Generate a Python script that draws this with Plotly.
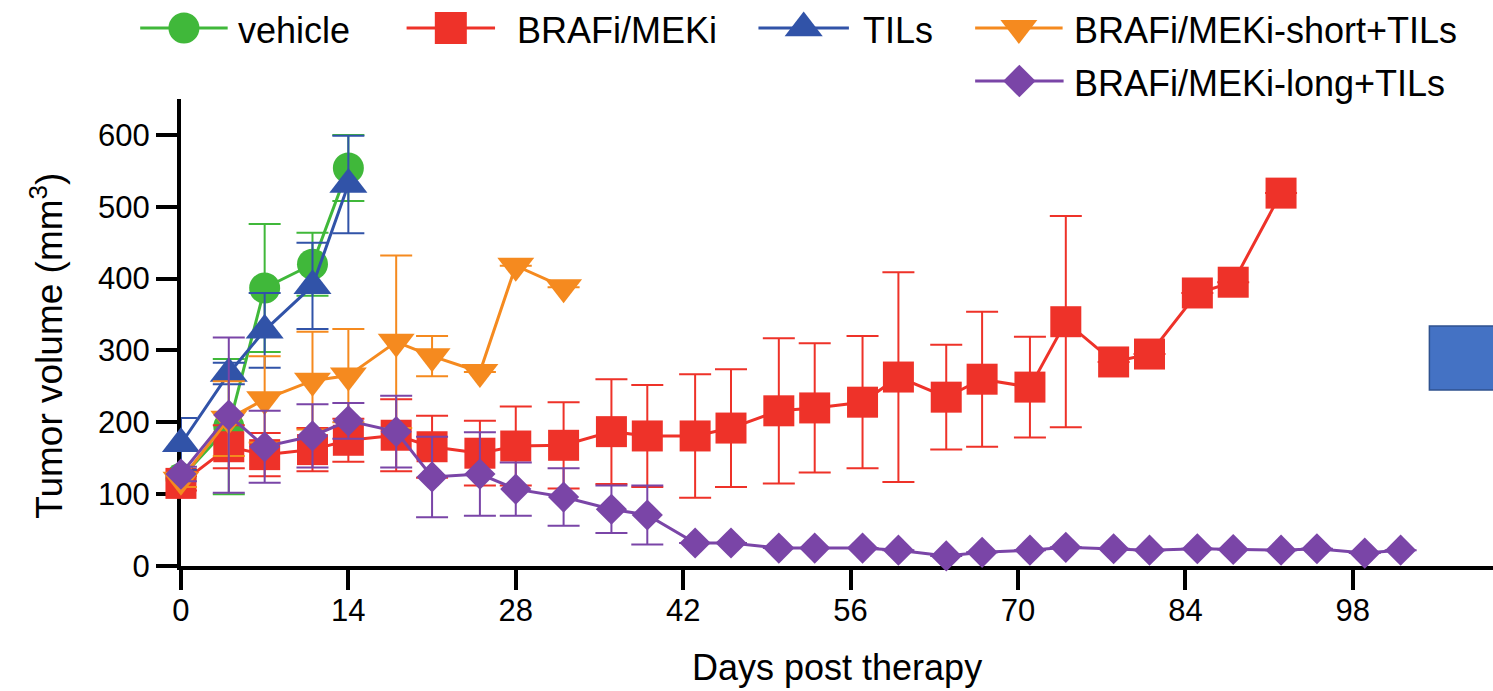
import plotly.graph_objects as go

# ---------------- data ----------------
vehicle_days = [0, 4, 7, 11, 14]
vehicle_vals = [122, 194, 387, 420, 554]
vehicle_err = [12, 94, 89, 44, 46]

braf_days = [0, 4, 7, 11, 14, 18, 21, 25, 28, 32, 36, 39, 43, 46, 50, 53, 57, 60, 64, 67, 71, 74, 78, 81, 85, 88, 92]
braf_vals = [115, 166, 155, 162, 175, 182, 166, 157, 167, 168, 187, 181, 181, 192, 216, 220, 228, 263, 235, 260, 249, 340, 284, 295, 380, 395, 519]
braf_err = [10, 30, 30, 30, 30, 50, 43, 45, 55, 60, 73, 71, 86, 82, 101, 90, 92, 146, 73, 94, 70, 147, 0, 0, 0, 0, 0]

til_days = [0, 4, 7, 11, 14]
til_vals = [170, 268, 328, 390, 531]
til_err = [36, 15, 52, 60, 68]

short_days = [0, 4, 7, 11, 14, 18, 21, 25, 28, 32]
short_vals = [120, 205, 232, 258, 265, 312, 292, 270, 418, 388]
short_err = [10, 52, 60, 68, 65, 120, 28, 0, 0, 0]

long_days = [0, 4, 7, 11, 14, 18, 21, 25, 28, 32, 36, 39, 43, 46, 50, 53, 57, 60, 64, 67, 71, 74, 78, 81, 85, 88, 92, 95, 99, 102]
long_vals = [128, 210, 166, 181, 202, 187, 124, 128, 107, 96, 79, 71, 32, 32, 25, 25, 25, 22, 14, 19, 22, 26, 24, 22, 24, 23, 22, 24, 18, 22]
long_err = [10, 108, 50, 44, 25, 50, 56, 58, 37, 40, 33, 41, 0, 0, 0, 0, 0, 0, 0, 0, 0, 0, 0, 0, 0, 0, 0, 0, 0, 0]

names = ["vehicle", "BRAFi/MEKi", "TILs", "BRAFi/MEKi-short+TILs", "BRAFi/MEKi-long+TILs"]
x_ticks = [0, 14, 28, 42, 56, 70, 84, 98]
y_ticks = [0, 100, 200, 300, 400, 500, 600]

# ---------------- styling ----------------
W, H = 1493, 691
PLOT_LEFT = 173
PLOT_BOTTOM = 566
Y_TOP_PX = 99
FONT = "Liberation Sans, Arial, sans-serif"

GREEN = "#40B83A"
RED = "#EE3229"
BLUE = "#3153A8"
ORANGE = "#F58A1F"
PURPLE = "#7A45A7"

series = [
    (vehicle_days, vehicle_vals, vehicle_err, GREEN, "circle", 31),
    (braf_days, braf_vals, braf_err, RED, "square", 31),
    (til_days, til_vals, til_err, BLUE, "triangle-up", 33),
    (short_days, short_vals, short_err, ORANGE, "triangle-down", 32),
    (long_days, long_vals, long_err, PURPLE, "diamond", 24),
]

fig = go.Figure()
for (d, v, e, c, sym, sz), nm in zip(series, names):
    fig.add_trace(go.Scatter(
        x=d, y=v, name=nm, mode="lines+markers",
        line=dict(color=c, width=3),
        marker=dict(color=c, symbol=sym, size=sz, line=dict(width=0)),
        error_y=dict(type="data", array=e, visible=True, color=c, thickness=2, width=16),
        cliponaxis=False, showlegend=False,
    ))

# ---------------- custom legend (pixel overlay axis) ----------------
legend_rows = [28, 28, 28, 28, 81]
legend_line = [(132, 220), (400, 489), (754, 845), (972, 1060), (972, 1061)]
legend_text_x = [228, 509, 857, 1069, 1069]
legend_sizes = [31, 32, 33, 32, 25]
for i, ((d, v, e, c, sym, sz), nm) in enumerate(zip(series, names)):
    x0, x1 = legend_line[i]
    yy = legend_rows[i]
    fig.add_trace(go.Scatter(
        x=[x0, x1], y=[yy, yy], mode="lines", line=dict(color=c, width=3),
        xaxis="x2", yaxis="y2", showlegend=False, hoverinfo="skip", cliponaxis=False,
    ))
    fig.add_trace(go.Scatter(
        x=[(x0 + x1) / 2], y=[yy], mode="markers",
        marker=dict(color=c, symbol=sym, size=legend_sizes[i], line=dict(width=0)),
        xaxis="x2", yaxis="y2", showlegend=False, hoverinfo="skip", cliponaxis=False,
    ))
    fig.add_annotation(
        x=legend_text_x[i], y=yy + 2, xref="x2", yref="y2", text=nm, showarrow=False,
        xanchor="left", yanchor="middle", font=dict(family=FONT, size=36, color="black"),
    )

# axis titles
fig.add_annotation(
    x=38 / W, y=(PLOT_BOTTOM - 346) / PLOT_BOTTOM, xref="paper", yref="paper",
    text="Tumor volume (mm<sup>3</sup>)", textangle=-90, showarrow=False,
    xanchor="center", yanchor="middle", font=dict(family=FONT, size=37, color="black"),
)
fig.add_annotation(
    x=833 / W, y=(PLOT_BOTTOM - 667) / PLOT_BOTTOM, xref="paper", yref="paper",
    text="Days post therapy", showarrow=False,
    xanchor="center", yanchor="middle", font=dict(family=FONT, size=36, color="black"),
)

# stray blue rectangle at the right edge
fig.add_shape(
    type="rect", xref="paper", yref="paper",
    x0=1429 / W, x1=1.01, y0=(PLOT_BOTTOM - 390) / PLOT_BOTTOM, y1=(PLOT_BOTTOM - 326) / PLOT_BOTTOM,
    fillcolor="#4472C4", line=dict(color="#2F528F", width=1.5), layer="above",
)

px_per_day = 12.03
x_max = (W - PLOT_LEFT) / px_per_day

fig.update_layout(
    width=W, height=H,
    margin=dict(l=0, r=0, t=0, b=H - PLOT_BOTTOM, pad=0),
    paper_bgcolor="white", plot_bgcolor="rgba(0,0,0,0)",
    showlegend=False,
    font=dict(family=FONT, color="black"),
    xaxis=dict(
        domain=[PLOT_LEFT / W, 1], range=[0, x_max], anchor="y",
        tickmode="array", tickvals=x_ticks, ticktext=[str(t) for t in x_ticks],
        ticks="outside", ticklen=20, tickwidth=3.5, tickcolor="black",
        showline=True, linewidth=4, linecolor="black", showgrid=False, zeroline=False,
        tickfont=dict(family=FONT, size=31, color="black"), layer="below traces",
        ticklabelstandoff=-6,
    ),
    yaxis=dict(
        domain=[0, (PLOT_BOTTOM - Y_TOP_PX) / PLOT_BOTTOM], range=[0, 650], anchor="x",
        tickmode="array", tickvals=y_ticks, ticktext=[str(t) for t in y_ticks],
        ticks="outside", ticklen=21, tickwidth=3.5, tickcolor="black",
        showline=True, linewidth=4, linecolor="black", showgrid=False, zeroline=False,
        tickfont=dict(family=FONT, size=31, color="black"), layer="below traces",
    ),
    xaxis2=dict(domain=[0, 1], range=[0, W], anchor="y2", visible=False, fixedrange=True),
    yaxis2=dict(domain=[0, 1], range=[PLOT_BOTTOM, 0], anchor="x2", visible=False, fixedrange=True),
)

fig.write_html("out.html")
